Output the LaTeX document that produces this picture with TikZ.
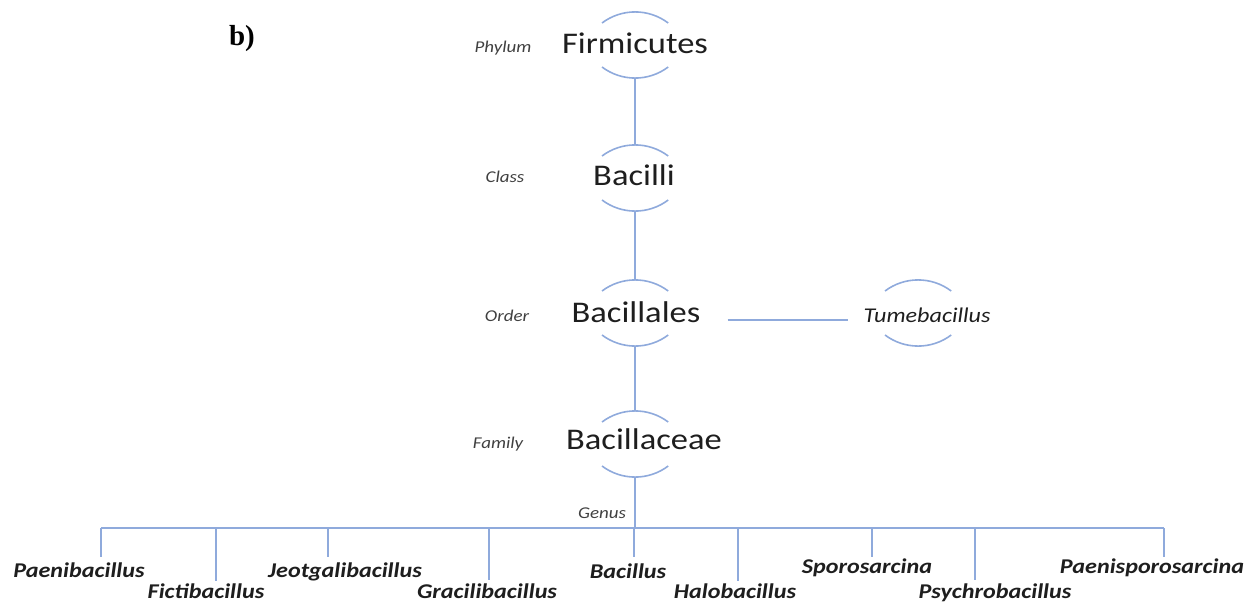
\documentclass[tikz,border=0pt]{standalone}
\usepackage{fontspec}
\usepackage{tikz}
\usetikzlibrary{calc}
\setmainfont[FakeStretch=1.15]{Carlito}
\newfontfamily\panelfont{Liberation Serif}
\definecolor{linkblue}{RGB}{143,170,220}
\definecolor{inkgray}{RGB}{30,30,30}

% two arcs round a taxon
\newcommand{\taxring}[1]{%
  \draw[branch] ([shift={(-33,-22)}]#1) arc[start angle=233, end angle=307, radius=55];
  \draw[branch] ([shift={(-33,22)}]#1) arc[start angle=127, end angle=53, radius=55];}

\begin{document}
\begin{tikzpicture}[x=1pt, y=-1pt]
        \tikzset{branch/.style={draw=linkblue, line width=1.6pt},
                 taxon/.style={anchor=base, inner sep=0pt, text=inkgray, font=\fontsize{30}{30}\selectfont},
                 rank/.style={anchor=base, inner sep=0pt, text=inkgray!85, font=\fontsize{16.5}{16.5}\selectfont\itshape},
                 genus/.style={anchor=base, inner sep=0pt, text=inkgray, font=\fontsize{21}{21}\selectfont\bfseries\itshape}}
        \useasboundingbox (0,0) rectangle (1258,605);

        \node[anchor=base, font=\panelfont\fontsize{29}{29}\selectfont\bfseries] (panel) at (242,45) {b)};

        % ranks
        \coordinate (firmC) at (635,45);
        \coordinate (baciC) at (635,178);
        \coordinate (ordC)  at (635,313);
        \coordinate (famC)  at (635,444);
        \coordinate (tumeC) at (918,313);

        \node[taxon] (firm) at (635,53)  {Firmicutes};
        \node[taxon] (baci) at (634,185) {Bacilli};
        \node[taxon] (ord)  at (636,322) {Bacillales};
        \node[taxon] (fam)  at (644,449) {Bacillaceae};
        \node[taxon, font=\fontsize{21}{21}\selectfont\itshape] (tume) at (927,322) {Tumebacillus};

        \node[rank] (phylum) at (503,52)  {Phylum};
        \node[rank] (class)  at (505,182) {Class};
        \node[rank] (order)  at (507,321) {Order};
        \node[rank] (family) at (498,448) {Family};
        \node[rank] (genus)  at (602,518) {Genus};

        \taxring{firmC}
        \taxring{baciC}
        \taxring{ordC}
        \taxring{famC}
        \taxring{tumeC}

        \draw[branch] ($(firmC)+(0,33)$) -- ($(baciC)+(0,-33)$);
        \draw[branch] ($(baciC)+(0,33)$) -- ($(ordC)+(0,-33)$);
        \draw[branch] ($(ordC)+(0,33)$) -- ($(famC)+(0,-33)$);
        \draw[branch] ([shift={(27,-2)}]ord.base east) -- ([shift={(-15,-2)}]tume.base west);

        % genera
        \coordinate (bar) at (635,528);
        \draw[branch] ($(famC)+(0,33)$) -- (bar);
        \foreach \tx/\ty/\lx/\ly/\gname/\gtext in {
            101/557/79/577/paeni/Paenibacillus,
            216/581/206/598/ficti/Fictibacillus,
            328/557/345/577/jeot/Jeotgalibacillus,
            489/580/487/598/graci/Gracilibacillus,
            634/557/628/578/bacil/Bacillus,
            738/581/735/598/halo/Halobacillus,
            872/557/867/573/sporo/Sporosarcina,
            975/580/995/598/psych/Psychrobacillus,
            1164/557/1152/573/paenispo/Paenisporosarcina} {
            \node[genus] (\gname) at (\lx,\ly) {\gtext};
            \coordinate (\gname-top) at (\tx,528);
            \coordinate (\gname-end) at (\tx,\ty);
            \draw[branch] (\gname-top) -- (\gname-end);
        }
        \draw[branch] (paeni-top) -- (paenispo-top);
    \end{tikzpicture}
\end{document}
